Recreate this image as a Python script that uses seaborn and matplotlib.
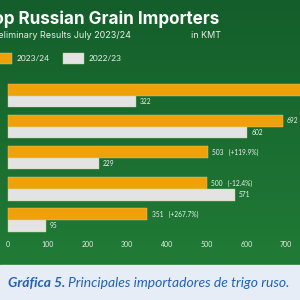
import numpy as np
import pandas as pd
import matplotlib
matplotlib.use("Agg")
import matplotlib.pyplot as plt
import matplotlib.patches as mpatches
import seaborn as sns

# ---------------------------------------------------------
# data (in KMT)
# ---------------------------------------------------------
importers = ["Importer A", "Importer B", "Importer C", "Importer D", "Importer E"]
seasons = ["2023/24", "2022/23"]
vals_2324 = [780, 692, 503, 500, 351]
vals_2223 = [322, 602, 229, 571, 95]
pct_change = ["", "", "(+119.9%)", "(-12.4%)", "(+267.7%)"]
xticks = [0, 100, 200, 300, 400, 500, 600, 700]

df = pd.DataFrame({
    "importer": importers * 2,
    "season": [seasons[0]] * 5 + [seasons[1]] * 5,
    "kmt": vals_2324 + vals_2223,
})

GREEN_TOP = "#145e2b"
GREEN_BOT = "#217b36"
ORANGE = "#f0a10a"
LIGHT = "#e3e3e3"
CAPTION_BG = "#e6edf7"
CAPTION_FG = "#2362b3"

sns.set_theme(style="white")
plt.rcParams["font.family"] = ["Lato", "DejaVu Sans"]

fig = plt.figure(figsize=(3, 3), dpi=100)

# green backdrop with a soft vertical gradient
bg = fig.add_axes([0, 35 / 300, 1, 265 / 300])
grad = np.linspace(0, 1, 256).reshape(-1, 1)
cmap = matplotlib.colors.LinearSegmentedColormap.from_list("g", [GREEN_TOP, GREEN_BOT])
bg.imshow(grad, aspect="auto", cmap=cmap, extent=[0, 1, 0, 1], origin="upper")
bg.set_axis_off()

# caption band
fig.patches.append(mpatches.Rectangle((0, 0), 1, 35 / 300, transform=fig.transFigure,
                                      color=CAPTION_BG, zorder=0))

# ---------------------------------------------------------
# bars
# ---------------------------------------------------------
ax = fig.add_axes([0, 1 - 235.5 / 300, 1, 155.5 / 300])
ax.patch.set_alpha(0)
sns.barplot(data=df, y="importer", x="kmt", hue="season", orient="h",
            palette=[ORANGE, LIGHT], width=0.75, saturation=1,
            edgecolor="#c9cf8a", linewidth=0.3, ax=ax, legend=False)
ax.set_xlim(-20.1, 735.3)
ax.set_ylim(4.5, -0.5)
ax.set_xticks(xticks)
ax.tick_params(axis="x", colors="#e8efe8", labelsize=5, length=0, pad=4)
ax.set_yticks([])
ax.set_xlabel("")
ax.set_ylabel("")
for s in ax.spines.values():
    s.set_visible(False)

lab_top = [f"{v}   {p}" if p else f"{v}" for v, p in zip(vals_2324, pct_change)]
lab_bot = [str(v) for v in vals_2223]
ax.bar_label(ax.containers[0], labels=lab_top, padding=3, fontsize=4.8, color="#eef3ee")
ax.bar_label(ax.containers[1], labels=lab_bot, padding=3, fontsize=4.8, color="#eef3ee")

# ---------------------------------------------------------
# titles and legend (the reference is cropped on the left)
# ---------------------------------------------------------
fig.text(219 / 300, 1 - 19 / 300, "Top Russian Grain Importers", ha="right", va="center",
         fontsize=12.3, fontweight="bold", color="white", family=["Inter", "DejaVu Sans"])
fig.text(131 / 300, 1 - 35 / 300, "Preliminary Results July 2023/24", ha="right", va="center",
         fontsize=6.5, color="#e9f0e9", family=["Inter", "DejaVu Sans"])
fig.text(191 / 300, 1 - 35 / 300, "in KMT", ha="left", va="center",
         fontsize=6.5, color="#e9f0e9", family=["Inter", "DejaVu Sans"])

handles = [mpatches.Patch(facecolor=ORANGE, edgecolor="#c9cf8a", linewidth=0.3),
           mpatches.Patch(facecolor=LIGHT, edgecolor="#c9cf8a", linewidth=0.3)]
leg = fig.legend(handles, seasons, loc="upper left", bbox_to_anchor=(-9 / 300, 1 - 53 / 300),
                 ncol=2, frameon=False, fontsize=6, handlelength=2.5, handleheight=1.6,
                 handletextpad=0.55, columnspacing=1.6, borderpad=0, borderaxespad=0)
for t in leg.get_texts():
    t.set_color("#eef3ee")

# caption
cap_y = 17 / 300
t1 = fig.text(8 / 300, cap_y, "Gráfica 5.", ha="left", va="center", fontsize=10,
              fontweight="bold", style="italic", color=CAPTION_FG)
fig.canvas.draw()
bb = t1.get_window_extent()
fig.text(bb.x1 / 300 + 3 / 300, cap_y, "Principales importadores de trigo ruso.", ha="left",
         va="center", fontsize=10, style="italic", color=CAPTION_FG)

fig.savefig("out.png", dpi=100)
